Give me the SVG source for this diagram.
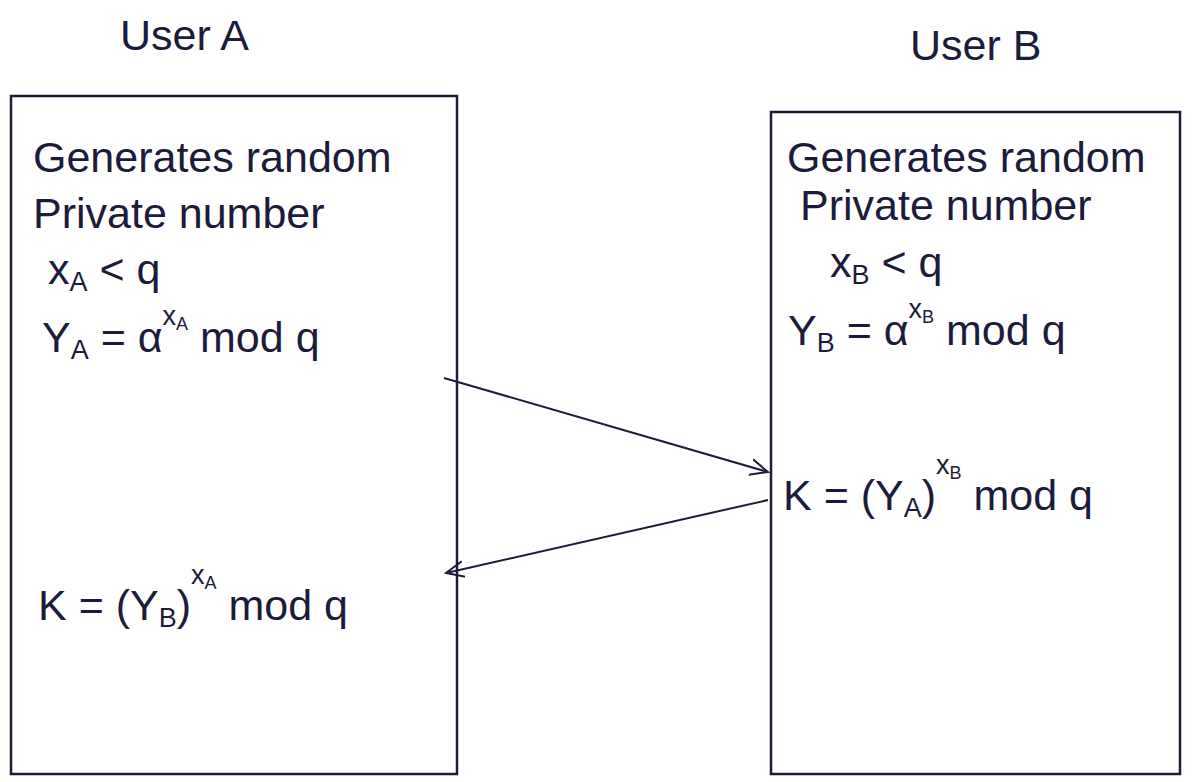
<svg xmlns="http://www.w3.org/2000/svg" width="1195" height="782" viewBox="0 0 1195 782">
<style>
.t{font-family:"Liberation Sans",Arial,sans-serif;font-size:43px;fill:#1c1c3a}
.s{font-size:27px}
.ss{font-size:18px}
.box{fill:none;stroke:#1c1c3a;stroke-width:2.5}
.c{stroke:#1c1c3a;stroke-width:2;fill:none}
</style>
<defs>
<marker id="ah" viewBox="0 0 20 20" refX="18" refY="10" markerWidth="20" markerHeight="20" markerUnits="userSpaceOnUse" orient="auto">
<path d="M0,2 L18,10 L0,18" fill="none" stroke="#1c1c3a" stroke-width="2"/>
</marker>
</defs>
<rect width="1195" height="782" fill="#ffffff"/>
<text class="t" x="120" y="50">User  A</text>
<text class="t" x="910" y="60">User  B</text>
<g id="userA">
<rect class="box" x="11" y="96" width="446" height="678"/>
<text class="t" x="33" y="172">Generates random</text>
<text class="t" x="33" y="228">Private number</text>
<text class="t" x="48" y="284">x<tspan class="s" dy="7">A</tspan><tspan dy="-7"> &lt; q</tspan></text>
<text class="t" x="42" y="352">Y<tspan class="s" dy="7">A</tspan><tspan dy="-7"> = α</tspan><tspan class="s" dy="-27">x</tspan><tspan class="ss" dy="5">A</tspan><tspan dy="22"> mod q</tspan></text>
<text class="t" x="38" y="620">K = (Y<tspan class="s" dy="7">B</tspan><tspan dy="-7">)</tspan><tspan class="s" dy="-36">x</tspan><tspan class="ss" dy="5">A</tspan><tspan dy="31"> mod q</tspan></text>
</g>
<g id="userB">
<rect class="box" x="771" y="112" width="409" height="662"/>
<text class="t" x="787" y="172">Generates random</text>
<text class="t" x="800" y="220">Private number</text>
<text class="t" x="830" y="277">x<tspan class="s" dy="7">B</tspan><tspan dy="-7"> &lt; q</tspan></text>
<text class="t" x="788" y="345">Y<tspan class="s" dy="7">B</tspan><tspan dy="-7"> = α</tspan><tspan class="s" dy="-27">x</tspan><tspan class="ss" dy="5">B</tspan><tspan dy="22"> mod q</tspan></text>
<text class="t" x="783" y="510">K = (Y<tspan class="s" dy="7">A</tspan><tspan dy="-7">)</tspan><tspan class="s" dy="-36">x</tspan><tspan class="ss" dy="5">B</tspan><tspan dy="31"> mod q</tspan></text>
</g>
<g id="connectors">
<line class="c" x1="444" y1="378" x2="768" y2="472" marker-end="url(#ah)"/>
<line class="c" x1="768" y1="500" x2="446" y2="573" marker-end="url(#ah)"/>
</g>
</svg>
